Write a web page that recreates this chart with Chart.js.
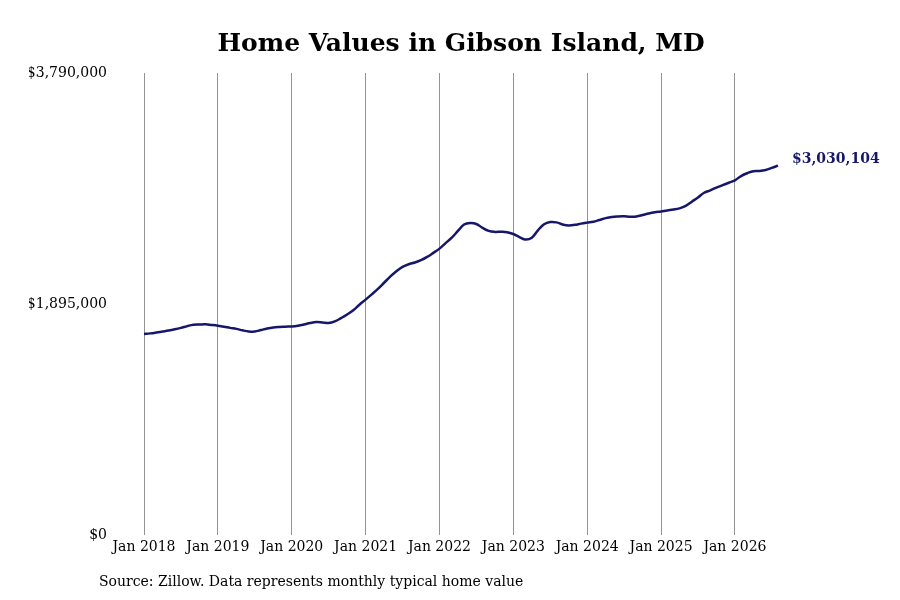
<!DOCTYPE html>
<html>
<head>
<meta charset="utf-8">
<script src="https://cdn.jsdelivr.net/npm/chart.js@4.4.1/dist/chart.umd.min.js"></script>
<style>
  html, body { margin: 0; padding: 0; background: #fff; }
  #wrap { position: relative; width: 900px; height: 600px; }
</style>
</head>
<body>
<div id="wrap"><canvas id="chart"></canvas></div>
<script>
const years = [2018, 2019, 2020, 2021, 2022, 2023, 2024, 2025, 2026];
const monthNames = ['Jan', 'Feb', 'Mar', 'Apr', 'May', 'Jun', 'Jul', 'Aug', 'Sep', 'Oct', 'Nov', 'Dec'];

// Typical home value, monthly, Jan 2018 - Aug 2026
const homeValues = [
  1650000, 1655000, 1662000, 1670000, 1678000, 1688000, 1700000, 1714000, 1726000, 1728000, 1729000, 1724000,
  1718000, 1710000, 1700000, 1692000, 1680000, 1671000, 1670000, 1682000, 1695000, 1704000, 1708000, 1710000,
  1712000, 1718000, 1728000, 1740000, 1748000, 1745000, 1740000, 1753000, 1780000, 1810000, 1845000, 1890000,
  1932000, 1975000, 2020000, 2070000, 2120000, 2165000, 2200000, 2222000, 2236000, 2255000, 2282000, 2315000,
  2350000, 2395000, 2440000, 2495000, 2548000, 2560000, 2552000, 2520000, 2495000, 2487000, 2488000, 2485000,
  2470000, 2445000, 2425000, 2440000, 2500000, 2550000, 2568000, 2565000, 2548000, 2540000, 2545000, 2555000,
  2563000, 2570000, 2585000, 2600000, 2610000, 2614000, 2615000, 2612000, 2614000, 2625000, 2638000, 2648000,
  2655000, 2663000, 2670000, 2680000, 2700000, 2735000, 2770000, 2808000, 2828000, 2850000, 2870000, 2890000,
  2910000, 2945000, 2968000, 2985000, 2987000, 2995000, 3012000, 3030104
];

const yTicks = [0, 1895000, 3790000];
const sourceNote = 'Source: Zillow. Data represents monthly typical home value';

// one label per month, only January ones are shown
const monthLabels = [];
years.forEach(y => monthNames.forEach(m => monthLabels.push(m + ' ' + y)));
monthLabels.length = homeValues.length;

const fmt = v => '$' + v.toLocaleString('en-US');
const serif = "'DejaVu Serif', serif";
const lineColor = '#16166b';

// last value label + source line
const extras = {
  id: 'extras',
  afterDatasetsDraw(chart) {
    const { ctx } = chart;
    const meta = chart.getDatasetMeta(0);
    const last = meta.data[meta.data.length - 1];
    ctx.save();
    ctx.font = 'bold 14px ' + serif;
    ctx.fillStyle = lineColor;
    ctx.textBaseline = 'middle';
    ctx.textAlign = 'left';
    ctx.fillText(fmt(homeValues[homeValues.length - 1]), last.x + 14, last.y - 6);

    ctx.font = '14px ' + serif;
    ctx.fillStyle = '#000';
    ctx.fillText(sourceNote, 99, 582);
    ctx.restore();
  }
};

new Chart(document.getElementById('chart'), {
  type: 'line',
  data: {
    labels: monthLabels,
    datasets: [{
      data: homeValues,
      borderColor: lineColor,
      borderWidth: 2.5,
      pointRadius: 0,
      tension: 0.4,
      fill: false
    }]
  },
  options: {
    responsive: true,
    maintainAspectRatio: false,
    animation: false,
    layout: { padding: { left: 29, right: 122, top: 0, bottom: 40 } },
    plugins: {
      legend: { display: false },
      tooltip: { enabled: false },
      title: {
        display: true,
        text: 'Home Values in Gibson Island, MD',
        fullSize: false,
        color: '#000',
        font: { family: serif, size: 25, weight: 'bold' },
        padding: { top: 29, bottom: 14 }
      }
    },
    scales: {
      x: {
        offset: false,
        grid: {
          drawTicks: false,
          color: c => (c.index % 12 === 0 && c.index < homeValues.length - 1) ? '#939393' : 'rgba(0,0,0,0)',
          lineWidth: 1
        },
        border: { display: false },
        ticks: {
          autoSkip: false,
          maxRotation: 0,
          padding: 4,
          color: '#000',
          font: { family: serif, size: 14 },
          callback: (v, i) => (i % 12 === 0 ? monthLabels[i] : '')
        }
      },
      y: {
        min: 0,
        max: yTicks[yTicks.length - 1],
        afterBuildTicks: s => { s.ticks = yTicks.map(v => ({ value: v })); },
        afterFit: s => { s.width = 115; },
        grid: { display: false, drawTicks: false },
        border: { display: false },
        ticks: {
          padding: 37,
          color: '#000',
          font: { family: serif, size: 14 },
          callback: v => fmt(v)
        }
      }
    }
  },
  plugins: [extras]
});
</script>
</body>
</html>
